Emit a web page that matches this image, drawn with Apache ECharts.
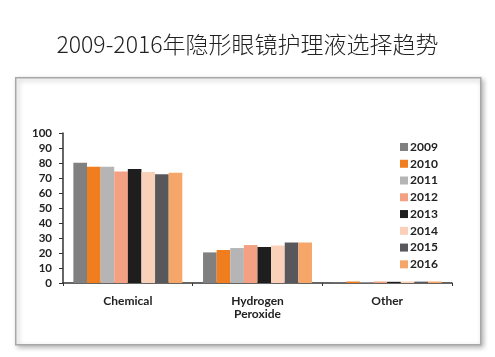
<!DOCTYPE html>
<html><head><meta charset="utf-8">
<script src="https://cdn.jsdelivr.net/npm/echarts@6/dist/echarts.min.js"></script>
<style>html,body{margin:0;padding:0;background:#fff}#c{width:495px;height:357px}</style>
</head><body><div id="c"></div>
<script>
const title = '2009-2016年隐形眼镜护理液选择趋势';
const categories = ['Chemical', 'Hydrogen\nPeroxide', 'Other'];
const years = ['2009','2010','2011','2012','2013','2014','2015','2016'];
const colors = ['#808080','#f07d1e','#b5b5b5','#f4a083','#1e1e1e','#f9d0b8','#58585c','#f5a668'];
const v2009 = [80.2, 20.4, 0.3];
const v2010 = [77.5, 22.0, 1.0];
const v2011 = [77.5, 23.3, 0.4];
const v2012 = [74.3, 25.3, 1.0];
const v2013 = [76.0, 24.0, 0.8];
const v2014 = [74.0, 25.0, 1.0];
const v2015 = [72.5, 27.0, 0.9];
const v2016 = [73.5, 27.0, 1.0];
const values = [v2009, v2010, v2011, v2012, v2013, v2014, v2015, v2016];
const yTicks = [0,10,20,30,40,50,60,70,80,90,100];

const font = 'Lato, "DejaVu Sans", sans-serif';
const chart = echarts.init(document.getElementById('c'));
chart.setOption({
  animation: false,
  backgroundColor: '#fff',
  title: {
    text: title, left: 'center', top: 28,
    textStyle: {fontFamily: '"Noto Sans CJK SC", sans-serif', fontSize: 23, fontWeight: 300, color: '#222'}
  },
  graphic: [{
    type: 'rect', left: 15, top: 77, z: -10,
    shape: {width: 465, height: 267},
    style: {fill: '#fff', stroke: '#a8a8a8', lineWidth: 1.5,
      shadowBlur: 5, shadowOffsetX: 2, shadowOffsetY: 2, shadowColor: 'rgba(0,0,0,0.3)'}
  }],
  legend: {
    orient: 'vertical', left: 395, top: 136,
    itemWidth: 8, itemHeight: 8, itemGap: 4.76,
    icon: 'rect',
    textStyle: {fontFamily: font, fontWeight: 'bold', fontSize: 12, color: '#222', lineHeight: 12, padding: [0,0,0,-3]},
    data: years
  },
  grid: {left: 63, right: 43, top: 133, bottom: 74},
  xAxis: {
    type: 'category', data: categories,
    axisLine: {lineStyle: {color: '#333', width: 1.5}},
    axisTick: {show: true, inside: false, length: 3, lineStyle: {color: '#333'}},
    axisLabel: {fontFamily: font, fontWeight: 'bold', fontSize: 12, color: '#222', margin: 12, lineHeight: 13}
  },
  yAxis: {
    type: 'value', min: 0, max: 100, interval: 10,
    axisLine: {show: true, lineStyle: {color: '#333', width: 1.5}},
    axisTick: {show: true, length: 4, lineStyle: {color: '#333'}},
    splitLine: {show: false},
    axisLabel: {fontFamily: font, fontWeight: 'bold', fontSize: 11.5, color: '#222', margin: 11,
      formatter: v => yTicks.includes(v) ? String(v) : ''}
  },
  series: years.map((y, i) => ({
    name: y, type: 'bar', data: values[i], barGap: '0%', barCategoryGap: '16%',
    itemStyle: {color: colors[i]}
  }))
});
</script></body></html>
